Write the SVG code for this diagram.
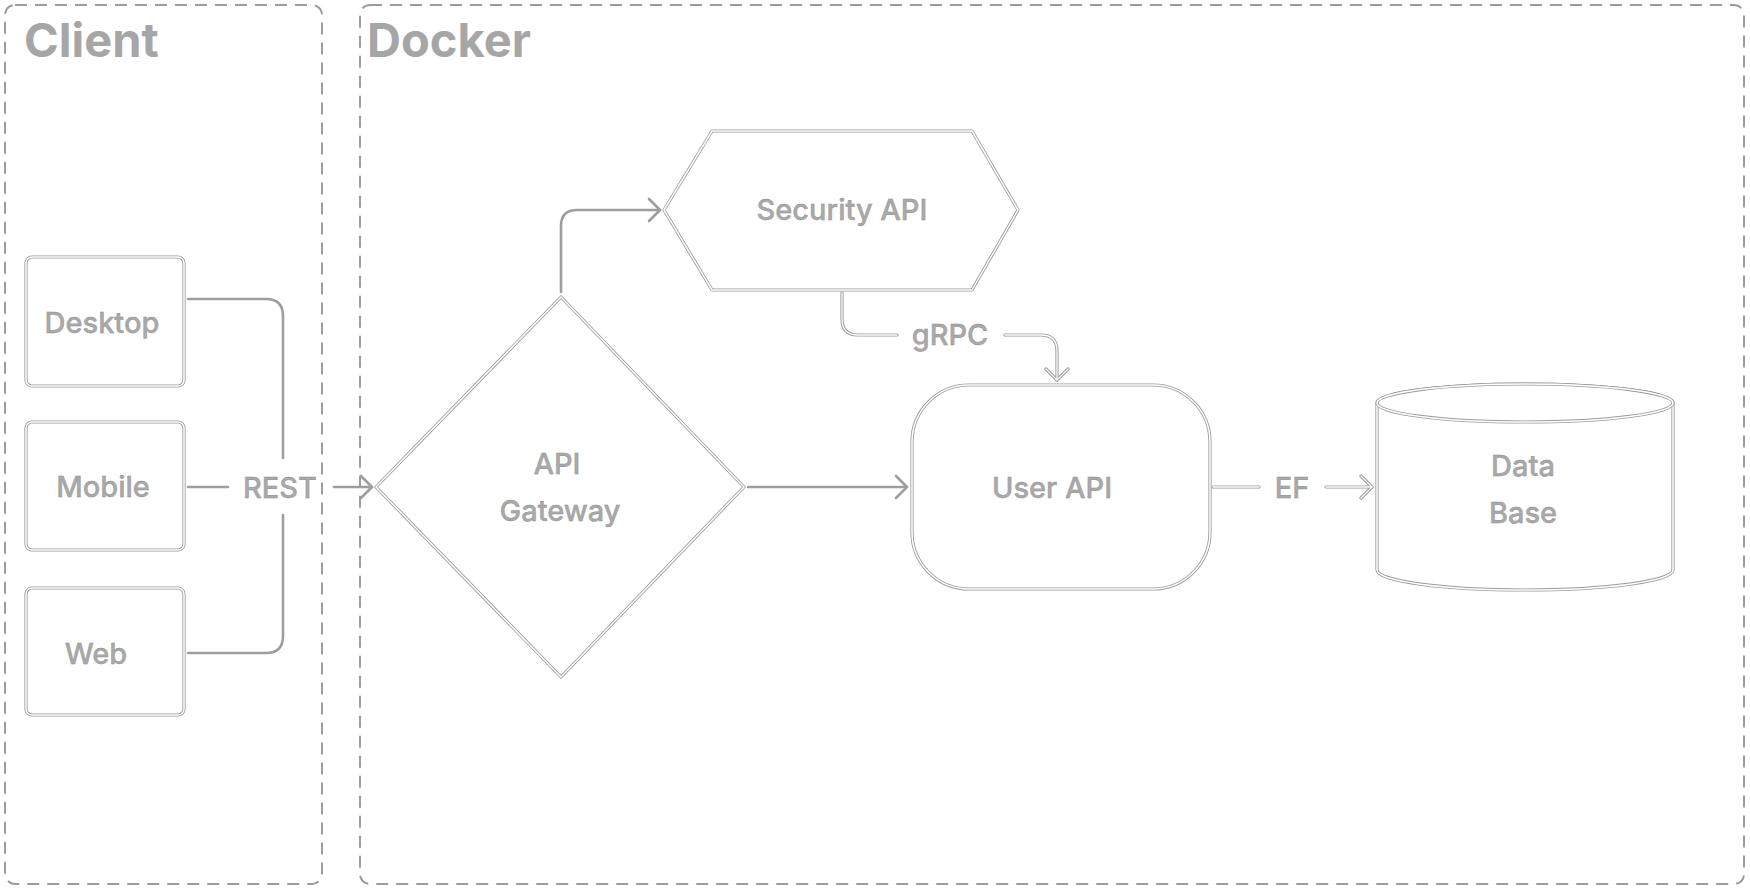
<svg xmlns="http://www.w3.org/2000/svg" width="1750" height="893" viewBox="0 0 1750 893">
<defs>
<style>
.bg{fill:#ffffff}
.frame{fill:none;stroke:#9c9c9c;stroke-width:2;stroke-dasharray:12 8}
.title{font-family:Inter,"Liberation Sans",sans-serif;font-weight:700;font-size:47px;fill:#a6a6a6}
.lbl{font-family:Inter,"Liberation Sans",sans-serif;font-weight:500;font-size:29px;fill:#a9a9a9;stroke:#8e8e8e;stroke-width:0.35;text-anchor:middle}
.shape-o{fill:#ffffff;stroke:#9a9a9a;stroke-width:3.2;stroke-linejoin:round}
.shape-i{fill:none;stroke:#ffffff;stroke-width:1.5;stroke-linejoin:round}
.conn{fill:none;stroke:#9e9e9e;stroke-width:2.6;stroke-linecap:round;stroke-linejoin:round}
.conn-o{fill:none;stroke:#9a9a9a;stroke-width:3.2;stroke-linecap:round;stroke-linejoin:round}
.conn-i{fill:none;stroke:#ffffff;stroke-width:1.3;stroke-linecap:round;stroke-linejoin:round}
</style>
<marker id="ah" viewBox="-14 -14 16 28" markerWidth="16" markerHeight="28" refX="0" refY="0" orient="auto" markerUnits="userSpaceOnUse">
<path d="M-11,-11 L0,0 L-11,11" fill="none" stroke="#9e9e9e" stroke-width="2.6" stroke-linecap="round" stroke-linejoin="round"/>
</marker>
<marker id="aho" viewBox="-14 -14 16 28" markerWidth="16" markerHeight="28" refX="0" refY="0" orient="auto" markerUnits="userSpaceOnUse">
<path d="M-11,-11 L0,0 L-11,11" fill="none" stroke="#9a9a9a" stroke-width="3.2" stroke-linecap="round" stroke-linejoin="round"/>
<path d="M-11,-11 L0,0 L-11,11" fill="none" stroke="#ffffff" stroke-width="1.3" stroke-linecap="round" stroke-linejoin="round"/>
</marker>
</defs>
<rect class="bg" x="0" y="0" width="1750" height="893"/>

<g id="client-container">
<rect class="frame" x="5" y="5" width="317" height="879" rx="10"/>
<text class="title" x="24" y="57">Client</text>
</g>
<g id="docker-container">
<rect class="frame" x="360" y="5" width="1384" height="879" rx="10"/>
<text class="title" x="367" y="57">Docker</text>
</g>

<g id="connectors">
<path class="conn" d="M188,299 H266 Q283,299 283,316 V458"/>
<path class="conn" d="M188,653 H266 Q283,653 283,636 V515"/>
<path class="conn" d="M188,487 H228"/>
<text class="lbl" x="280" y="498">REST</text>
<path class="conn" d="M334,487 H372" marker-end="url(#ah)"/>
<path class="conn" d="M561,292 V226 Q561,210 577,210 H660" marker-end="url(#ah)"/>
<path class="conn" d="M748,487 H907" marker-end="url(#ah)"/>
<path class="conn-o" d="M842,293 V319 Q842,335 858,335 H897"/>
<path class="conn-i" d="M842,293 V319 Q842,335 858,335 H897"/>
<text class="lbl" x="950" y="345">gRPC</text>
<path class="conn-o" d="M1005,335 H1041 Q1057,335 1057,351 V380" marker-end="url(#aho)"/>
<path class="conn-i" d="M1005,335 H1041 Q1057,335 1057,351 V380"/>
<path class="conn-o" d="M1213,487 H1259"/>
<path class="conn-i" d="M1213,487 H1259"/>
<text class="lbl" x="1292" y="498">EF</text>
<path class="conn-o" d="M1326,487 H1372" marker-end="url(#aho)"/>
<path class="conn-i" d="M1326,487 H1372"/>
</g>

<g id="desktop">
<rect class="shape-o" x="26" y="257" width="158" height="129" rx="6"/>
<rect class="shape-i" x="26" y="257" width="158" height="129" rx="6"/>
<text class="lbl" x="102" y="333">Desktop</text>
</g>
<g id="mobile">
<rect class="shape-o" x="26" y="422" width="158" height="128" rx="6"/>
<rect class="shape-i" x="26" y="422" width="158" height="128" rx="6"/>
<text class="lbl" x="103" y="497">Mobile</text>
</g>
<g id="web">
<rect class="shape-o" x="26" y="588" width="158" height="127" rx="6"/>
<rect class="shape-i" x="26" y="588" width="158" height="127" rx="6"/>
<text class="lbl" x="96" y="664">Web</text>
</g>

<g id="api-gateway">
<polygon class="shape-o" points="561,297 744,487 561,677 376,487"/>
<polygon class="shape-i" points="561,297 744,487 561,677 376,487"/>
<text class="lbl" x="557" y="474">API</text>
<text class="lbl" x="560" y="521">Gateway</text>
</g>

<g id="security-api">
<polygon class="shape-o" points="664,210 712,131 972,131 1018,210 972,290 712,290"/>
<polygon class="shape-i" points="664,210 712,131 972,131 1018,210 972,290 712,290"/>
<text class="lbl" x="842" y="220">Security API</text>
</g>

<g id="user-api">
<rect class="shape-o" x="912" y="385" width="298" height="204" rx="57"/>
<rect class="shape-i" x="912" y="385" width="298" height="204" rx="57"/>
<text class="lbl" x="1052" y="498">User API</text>
</g>

<g id="database">
<path class="shape-o" d="M1377,403 V570 A148,20 0 0 0 1673,570 V403 A148,19 0 0 0 1377,403 Z"/>
<path class="shape-i" d="M1377,403 V570 A148,20 0 0 0 1673,570 V403 A148,19 0 0 0 1377,403 Z"/>
<ellipse class="shape-o" cx="1525" cy="403" rx="148" ry="19" fill="none"/>
<ellipse class="shape-i" cx="1525" cy="403" rx="148" ry="19"/>
<text class="lbl" x="1523" y="476">Data</text>
<text class="lbl" x="1523" y="523">Base</text>
</g>
</svg>
